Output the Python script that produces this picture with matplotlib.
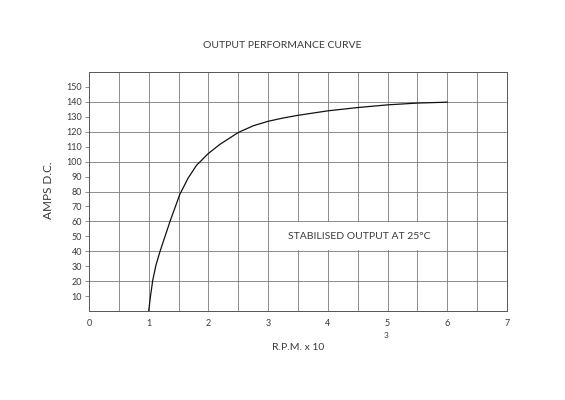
import numpy as np
import matplotlib
matplotlib.use('Agg')
import matplotlib.pyplot as plt

plt.rcParams['font.family'] = ['Lato', 'DejaVu Sans']

# curve (speed in 1000 rpm, output in amps)
rpm = [1.0, 1.03, 1.067, 1.12, 1.19, 1.357, 1.52, 1.66, 1.8, 2.0, 2.19, 2.5,
       2.75, 3.0, 3.25, 3.5, 4.0, 4.5, 5.0, 5.5, 6.0]
amps = [0, 10, 20.5, 30.5, 40, 60, 78, 89, 97.5, 105.5, 111.5, 119.5,
        124, 127, 129.2, 131, 134, 136.2, 138, 139.2, 139.8]
x_ticks = [0, 1, 2, 3, 4, 5, 6, 7]
y_ticks = list(range(10, 160, 10))
x_grid = np.arange(0.5, 7, 0.5)
y_grid = list(range(20, 160, 20))

TXT = '#3a3a3a'
GRID = '#7a7a7a'

fig = plt.figure(figsize=(5.65, 4.0), dpi=100)
ax = fig.add_axes([89 / 565, 1 - 311 / 400, 418 / 565, 239 / 400])

ax.set_xlim(0, 7)
ax.set_ylim(0, 160)
ax.set_xticks(x_ticks)
ax.set_yticks(y_ticks)
for gx in x_grid:
    ax.axvline(gx, color=GRID, lw=0.6, zorder=0)
for gy in y_grid:
    ax.axhline(gy, color=GRID, lw=0.6, zorder=0)
ax.tick_params(axis='x', length=0, pad=6, labelsize=6.5, labelcolor=TXT)
ax.tick_params(axis='y', length=3, width=0.6, color=GRID,
               pad=2, labelsize=6.5, labelcolor=TXT)
for s in ax.spines.values():
    s.set_color('#555555')
    s.set_linewidth(0.7)

ax.plot(rpm, amps, color='#111111', lw=0.9, zorder=2)

ax.text(3.33, 50, 'STABILISED OUTPUT AT 25°C', fontsize=7.5, color=TXT,
        va='center', ha='left', zorder=3,
        bbox=dict(fc='white', ec='none', boxstyle='square,pad=0.9'))

fig.text(282 / 565, 1 - 45 / 400, 'OUTPUT PERFORMANCE CURVE', fontsize=7.5,
         color=TXT, ha='center', va='center')
fig.text(48 / 565, 1 - 190 / 400, 'AMPS D.C.', fontsize=8.5, color=TXT,
         rotation=90, ha='center', va='center')
fig.text(298 / 565, 1 - 348 / 400, 'R.P.M. x 10', fontsize=7.5, color=TXT,
         ha='center', va='center')
fig.text(386 / 565, 1 - 335 / 400, '3', fontsize=6, color=TXT,
         ha='center', va='center')

fig.savefig('out.png', dpi=100, facecolor='white')
